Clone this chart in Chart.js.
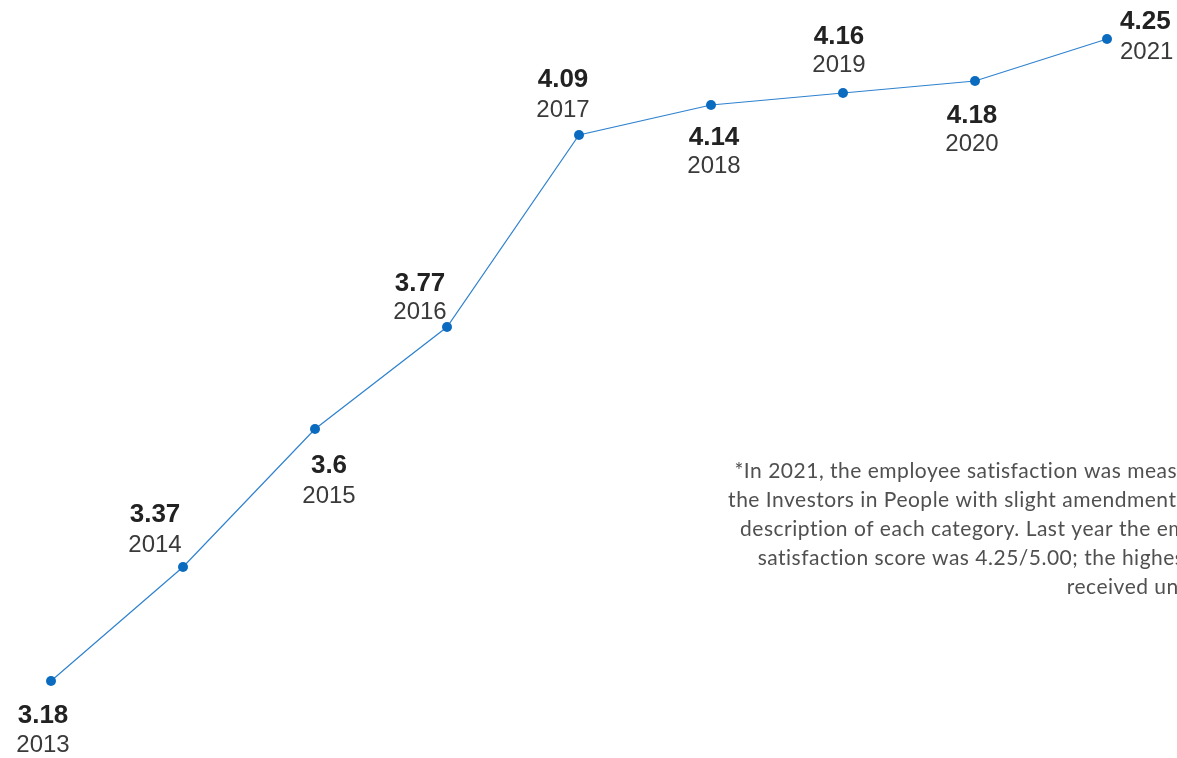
<!DOCTYPE html>
<html>
<head>
<meta charset="utf-8">
<title>Employee satisfaction score</title>
<script src="https://cdn.jsdelivr.net/npm/chart.js@4/dist/chart.umd.min.js"></script>
<style>
  html, body { margin: 0; padding: 0; background: #ffffff; }
  #wrap { position: relative; width: 1177px; height: 758px; overflow: hidden; }
</style>
</head>
<body>
<div id="wrap"><canvas id="chart"></canvas></div>
<script>
// Employee satisfaction score by year (out of 5.00)
const years  = ['2013', '2014', '2015', '2016', '2017', '2018', '2019', '2020', '2021'];
const scores = [3.18, 3.37, 3.6, 3.77, 4.09, 4.14, 4.16, 4.18, 4.25];

// Footnote lines, right-aligned beside the curve
const noteLines = [
  '*In 2021, the employee satisfaction was measured by',
  'the Investors in People with slight amendments to the',
  'description of each category. Last year the employee',
  'satisfaction score was 4.25/5.00; the highest score',
  'received until now.'
];

// Where each label pair sits relative to its point: [dx of centre, value baseline dy, year baseline dy, align]
const labelPlacement = [
  [-8, 42, 71, 'center'],
  [-28, -45, -15, 'center'],
  [14, 44, 74, 'center'],
  [-27, -36, -8, 'center'],
  [-16, -48, -18, 'center'],
  [3, 40, 68, 'center'],
  [-4, -49, -21, 'center'],
  [-3, 42, 70, 'center'],
  [13, -10, 20, 'left']
];

const pointLabels = {
  id: 'pointLabels',
  afterDatasetsDraw(chart) {
    const ctx = chart.ctx;
    const meta = chart.getDatasetMeta(0);
    ctx.save();
    ctx.textBaseline = 'alphabetic';
    meta.data.forEach((pt, i) => {
      const [dx, dv, dy, align] = labelPlacement[i];
      ctx.textAlign = align;
      ctx.fillStyle = '#222222';
      ctx.font = 'bold 26px "Liberation Sans", Arial, sans-serif';
      ctx.fillText(String(scores[i]), pt.x + dx, pt.y + dv);
      ctx.fillStyle = '#3a3a3a';
      ctx.font = '24px "Liberation Sans", Arial, sans-serif';
      ctx.fillText(years[i], pt.x + dx, pt.y + dy);
    });
    ctx.restore();
  }
};

const footnote = {
  id: 'footnote',
  afterDraw(chart) {
    const ctx = chart.ctx;
    ctx.save();
    ctx.fillStyle = '#505050';
    ctx.font = '21px Lato, "Open Sans", sans-serif';
    ctx.letterSpacing = '0.5px';
    ctx.textAlign = 'right';
    ctx.textBaseline = 'alphabetic';
    noteLines.forEach((line, i) => {
      ctx.fillText(line, 1250, 478 + i * 29);
    });
    ctx.restore();
  }
};

new Chart(document.getElementById('chart'), {
  type: 'line',
  data: {
    labels: years,
    datasets: [{
      data: scores,
      borderColor: '#2f82cf',
      borderWidth: 1.2,
      pointBackgroundColor: '#0b6cbf',
      pointBorderColor: '#0b6cbf',
      pointRadius: 5,
      pointBorderWidth: 0,
      tension: 0,
      fill: false,
      clip: false
    }]
  },
  options: {
    responsive: true,
    maintainAspectRatio: false,
    animation: false,
    layout: { padding: { left: 51, right: 70, top: 9, bottom: 29 } },
    plugins: { legend: { display: false }, tooltip: { enabled: false } },
    scales: {
      x: { display: false, offset: false },
      y: { display: false, min: 3.1, max: 4.3 }
    }
  },
  plugins: [pointLabels, footnote]
});
</script>
</body>
</html>
